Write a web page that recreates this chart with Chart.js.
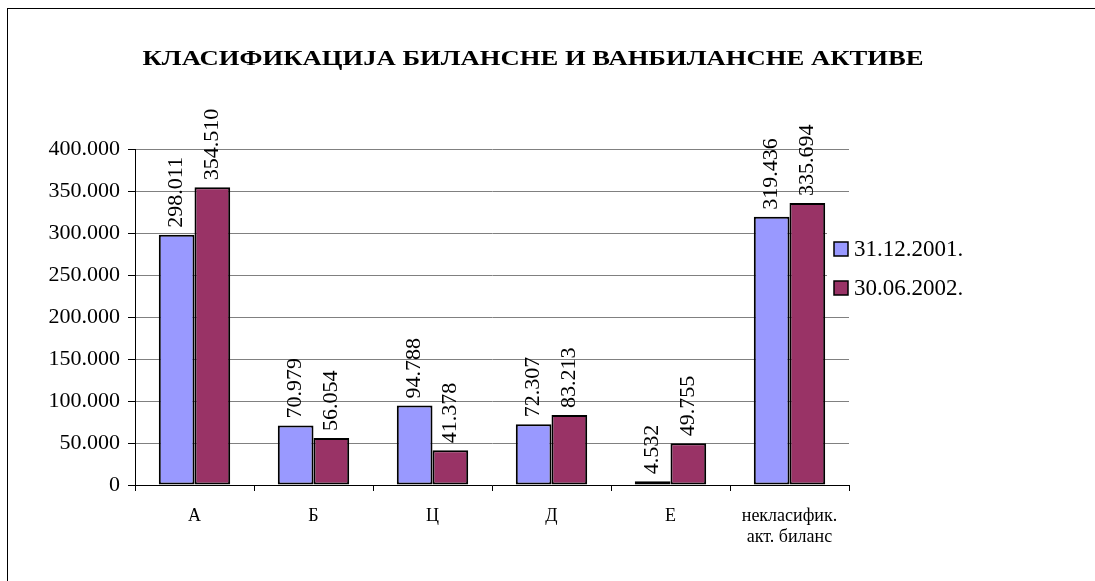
<!DOCTYPE html>
<html>
<head>
<meta charset="utf-8">
<script src="https://cdn.jsdelivr.net/npm/chart.js@4/dist/chart.umd.min.js"></script>
<style>
  html, body { margin: 0; padding: 0; background: #fff; }
  #wrap { position: relative; width: 1095px; height: 581px; overflow: hidden; }
  #frame { position: absolute; left: 7px; top: 8px; width: 1200px; height: 700px; border-left: 1px solid #000; border-top: 1px solid #000; }
  canvas { position: absolute; left: 0; top: 0; }
</style>
</head>
<body>
<div id="wrap">
  <div id="frame"></div>
  <canvas id="chart" width="1095" height="581"></canvas>
</div>
<script>
// data
const categories = ["А", "Б", "Ц", "Д", "Е", ["некласифик.", "акт. биланс"]];
const seriesNames = ["31.12.2001.", "30.06.2002."];
const dec2001 = [298011, 70979, 94788, 72307, 4532, 319436];
const jun2002 = [354510, 56054, 41378, 83213, 49755, 335694];
const chartTitle = "КЛАСИФИКАЦИЈА БИЛАНСНЕ И ВАНБИЛАНСНЕ АКТИВЕ";

const colors = {
  blue: "#9999ff",
  maroon: "#993366",
  grid: "#808080",
  black: "#000000",
};

const serif = "'Liberation Serif', 'Times New Roman', serif";

function formatThousands(v) {
  return String(Math.round(v)).replace(/\B(?=(\d{3})+(?!\d))/g, ".");
}

// title, drawn a bit wide like the original
const titlePlugin = {
  id: "titlePlugin",
  afterDraw: (chart) => {
    const ctx = chart.ctx;
    ctx.save();
    ctx.font = "bold 21px " + serif;
    ctx.fillStyle = colors.black;
    ctx.textBaseline = "middle";
    ctx.textAlign = "center";
    const w = ctx.measureText(chartTitle).width;
    const sx = 781 / w;
    ctx.translate(533, 60);
    ctx.scale(sx, 1);
    ctx.fillText(chartTitle, 0, 0);
    ctx.restore();
  },
};

// rotated value labels above the bars
const valueLabels = {
  id: "valueLabels",
  afterDatasetsDraw: (chart) => {
    const ctx = chart.ctx;
    ctx.save();
    ctx.font = "22px " + serif;
    ctx.fillStyle = colors.black;
    ctx.textAlign = "left";
    ctx.textBaseline = "middle";
    chart.data.datasets.forEach((ds, i) => {
      const meta = chart.getDatasetMeta(i);
      meta.data.forEach((bar, j) => {
        ctx.save();
        ctx.translate(bar.x, bar.y - 7);
        ctx.rotate(-Math.PI / 2);
        ctx.fillText(formatThousands(ds.data[j]), 0, 0);
        ctx.restore();
      });
    });
    ctx.restore();
  },
};

// legend sitting over the right end of the plot
const sideLegend = {
  id: "sideLegend",
  afterDraw: (chart) => {
    const ctx = chart.ctx;
    const area = chart.chartArea;
    const x0 = area.right - 15;
    ctx.save();
    ctx.fillStyle = "#fff";
    ctx.fillRect(x0 - 7, 230, 160, 76);
    ctx.font = "23px " + serif;
    ctx.textBaseline = "middle";
    ctx.textAlign = "left";
    chart.data.datasets.forEach((ds, i) => {
      const y = 249 + i * 39;
      ctx.fillStyle = ds.backgroundColor;
      ctx.fillRect(x0, y - 7, 14, 14);
      ctx.strokeStyle = colors.black;
      ctx.lineWidth = 1.5;
      ctx.strokeRect(x0, y - 7, 14, 14);
      ctx.fillStyle = colors.black;
      ctx.fillText(ds.label, x0 + 20, y + 1);
    });
    ctx.restore();
  },
};

const config = {
  type: "bar",
  data: {
    labels: categories,
    datasets: [
      {
        label: seriesNames[0],
        data: dec2001,
        backgroundColor: colors.blue,
        borderColor: colors.black,
        borderWidth: 2,
        borderSkipped: false,
      },
      {
        label: seriesNames[1],
        data: jun2002,
        backgroundColor: colors.maroon,
        borderColor: colors.black,
        borderWidth: 2,
        borderSkipped: false,
      },
    ],
  },
  options: {
    responsive: false,
    animation: false,
    devicePixelRatio: 1,
    layout: {
      padding: { left: 0, right: 246, top: 149, bottom: 0 },
    },
    datasets: {
      bar: {
        categoryPercentage: 0.6,
        barPercentage: 1,
      },
    },
    plugins: {
      legend: { display: false },
      title: { display: false },
      tooltip: { enabled: false },
    },
    scales: {
      x: {
        afterFit: (scale) => {
          scale.height = 96;
        },
        grid: {
          display: true,
          drawOnChartArea: false,
          drawTicks: true,
          tickLength: 6,
          color: colors.black,
        },
        border: { color: colors.black, width: 1 },
        ticks: {
          color: colors.black,
          font: { family: serif, size: 18 },
          padding: 14,
          maxRotation: 0,
          autoSkip: false,
        },
      },
      y: {
        min: 0,
        max: 400000,
        afterFit: (scale) => {
          scale.width = 135;
        },
        grid: {
          color: colors.grid,
          tickColor: colors.black,
          tickLength: 7,
        },
        border: { color: colors.black, width: 1 },
        ticks: {
          stepSize: 50000,
          color: colors.black,
          font: { family: serif, size: 22 },
          padding: 8,
          callback: (v) => formatThousands(v),
        },
      },
    },
  },
  plugins: [titlePlugin, valueLabels, sideLegend],
};

new Chart(document.getElementById("chart"), config);
</script>
</body>
</html>
